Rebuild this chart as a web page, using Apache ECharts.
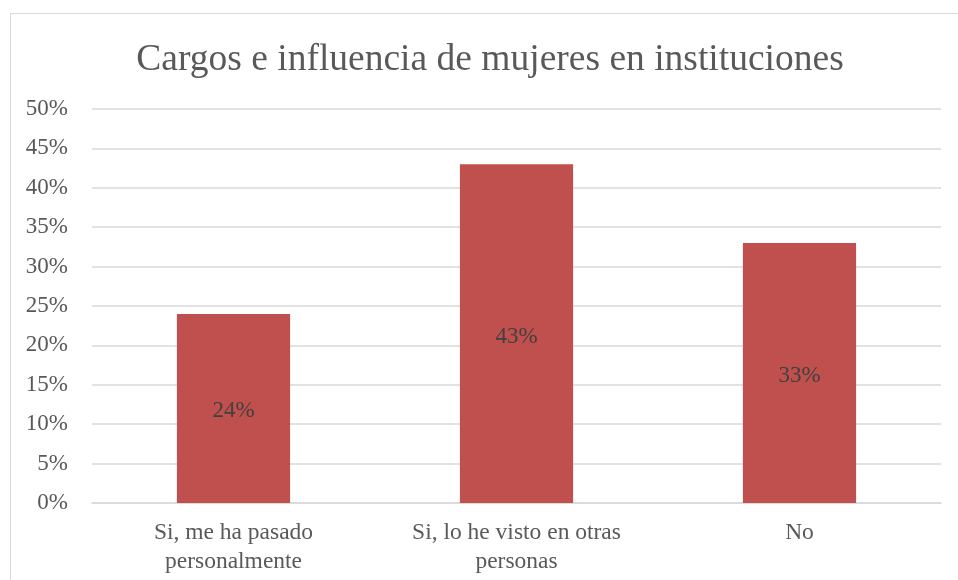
<!DOCTYPE html>
<html><head><meta charset="utf-8">
<script src="https://cdn.jsdelivr.net/npm/echarts@6/dist/echarts.min.js"></script>
<style>html,body{margin:0;padding:0;background:#fff}#c{width:958px;height:580px}
#frame{position:absolute;left:10px;top:13px;width:960px;height:600px;border:1px solid #d9d9d9;box-sizing:border-box;pointer-events:none}</style>
</head><body><div id="c"></div><div id="frame"></div>
<script>
const categories = ["Si, me ha pasado\npersonalmente", "Si, lo he visto en otras\npersonas", "No"];
const values = [24, 43, 33];
const titleText = "Cargos e influencia de mujeres en instituciones";
const font = "'Liberation Serif','Times New Roman',serif";
const chart = echarts.init(document.getElementById('c'));
chart.setOption({
  animation: false,
  title: { text: titleText, left: 485, top: 36, textAlign: 'center',
    textStyle: { fontFamily: font, fontSize: 37.5, fontWeight: 'normal', color: '#595959' } },
  grid: { left: 92, right: 17, top: 109, bottom: 77, containLabel: false },
  xAxis: { type: 'category', data: categories,
    axisLine: { show: true, lineStyle: { color: '#d9d9d9', width: 1.5 } },
    axisTick: { show: false },
    axisLabel: { fontFamily: font, fontSize: 23.5, color: '#595959', margin: 15, lineHeight: 29, interval: 0 } },
  yAxis: { type: 'value', min: 0, max: 50, interval: 5,
    axisLabel: { formatter: v => v + '%', fontFamily: font, fontSize: 23, color: '#595959', margin: 24 },
    splitLine: { lineStyle: { color: '#d9d9d9', width: 1.5 } },
    axisLine: { show: false }, axisTick: { show: false } },
  series: [{ type: 'bar', data: values, barWidth: '40%',
    itemStyle: { color: '#C0504D' },
    label: { show: true, position: 'inside', offset: [0, 3], formatter: p => p.value + '%',
      fontFamily: font, fontSize: 23, color: '#404040' } }]
});
</script></body></html>
